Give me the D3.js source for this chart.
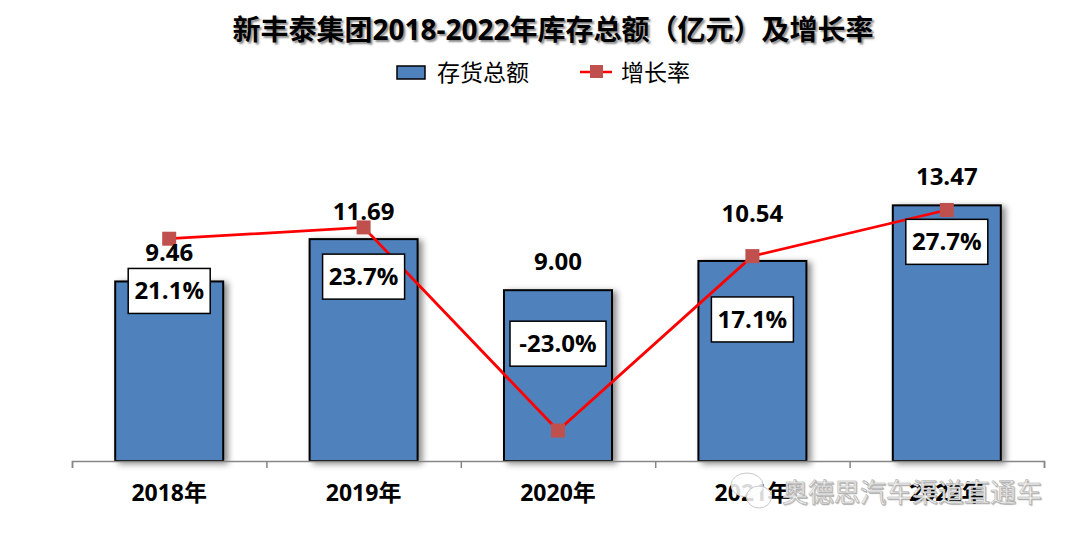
<!DOCTYPE html>
<html>
<head>
<meta charset="utf-8">
<script src="https://cdn.jsdelivr.net/npm/d3@7"></script>
<style>
  html, body { margin: 0; padding: 0; background: #fff; }
  svg text { font-family: "Open Sans", "Noto Sans CJK SC", sans-serif; }
</style>
</head>
<body>
<main></main>
<script>
const years = ["2018年", "2019年", "2020年", "2021年", "2022年"];
const inventory = [9.46, 11.69, 9.00, 10.54, 13.47];
const growth = [21.1, 23.7, -23.0, 17.1, 27.7];

const titleText = "新丰泰集团2018-2022年库存总额（亿元）及增长率";
const barName = "存货总额";
const lineName = "增长率";
const watermark = "奥德思汽车渠道直通车";

// hand placed in the original, so offsets from the bar top in px
const valueOffsets = [29, 28, 29, 48, 29];
const boxOffsets = [-13, 15, 31, 36, 14];

const width = 1080;
const height = 540;
const baseY = 461;
const left = 72;
const right = 1044;

const svg = d3.select("main")
    .append("svg")
    .attr("width", width)
    .attr("height", height)
    .style("display", "block");

const xScale = d3.scaleBand().domain(years).range([left, right]);
const yScale = d3.scaleLinear().domain([0, 16]).range([baseY, baseY - 16 * 18.98]);
const rateScale = d3.scaleLinear().domain([-30, 30]).range([baseY, 200]);
const tickScale = d3.scaleLinear().domain([0, years.length]).range([left, right]);

const barWidth = 108;
const cx = d => xScale(d) + xScale.bandwidth() / 2;

// Title and legend
svg.append("text")
    .attr("x", 553)
    .attr("y", 40)
    .attr("text-anchor", "middle")
    .style("font-size", "28px")
    .style("font-weight", "700")
    .style("fill", "#000")
    .style("text-shadow", "2px 2px 2px rgba(0,0,0,0.45)")
    .text(titleText);

svg.append("rect")
    .attr("x", 397)
    .attr("y", 66)
    .attr("width", 28)
    .attr("height", 13)
    .attr("fill", "#4f81bd")
    .attr("stroke", "#000")
    .attr("stroke-width", 1.5);

svg.append("text")
    .attr("x", 437)
    .attr("y", 81)
    .style("font-size", "23px")
    .text(barName);

svg.append("line")
    .attr("x1", 580)
    .attr("x2", 612)
    .attr("y1", 72)
    .attr("y2", 72)
    .attr("stroke", "#ff0000")
    .attr("stroke-width", 2.5);

svg.append("rect")
    .attr("x", 590)
    .attr("y", 65)
    .attr("width", 13)
    .attr("height", 13)
    .attr("fill", "#c0504d");

svg.append("text")
    .attr("x", 621)
    .attr("y", 81)
    .style("font-size", "23px")
    .text(lineName);

// Bars
svg.selectAll(".bar")
    .data(inventory)
    .enter()
    .append("rect")
    .attr("class", "bar")
    .attr("x", (d, i) => cx(years[i]) - barWidth / 2)
    .attr("y", d => yScale(d))
    .attr("width", barWidth)
    .attr("height", d => baseY - yScale(d))
    .attr("fill", "#4f81bd")
    .attr("stroke", "#000")
    .attr("stroke-width", 2)
    .style("filter", "drop-shadow(4px 2px 3px rgba(0,0,0,0.45))");

// Axis: outer ticks from one scale, labels from the band scale
svg.append("g")
    .attr("transform", `translate(0, ${baseY})`)
    .call(d3.axisBottom(tickScale).ticks(years.length).tickSize(7).tickFormat(""))
    .call(g => g.selectAll("path, line").attr("stroke", "#868686").attr("stroke-width", 1.5));

svg.append("g")
    .attr("transform", `translate(0, ${baseY})`)
    .call(d3.axisBottom(xScale).tickSize(0).tickPadding(24))
    .call(g => g.select(".domain").remove())
    .call(g => g.selectAll("text")
        .style("font-size", "23px")
        .style("font-weight", "700")
        .style("fill", "#000"));

// Growth line
const line = d3.line()
    .x((d, i) => cx(years[i]))
    .y(d => rateScale(d));

svg.append("path")
    .datum(growth)
    .attr("d", line)
    .attr("fill", "none")
    .attr("stroke", "#ff0000")
    .attr("stroke-width", 2.8);

svg.selectAll(".marker")
    .data(growth)
    .enter()
    .append("rect")
    .attr("class", "marker")
    .attr("x", (d, i) => cx(years[i]) - 7)
    .attr("y", d => rateScale(d) - 7)
    .attr("width", 14)
    .attr("height", 14)
    .attr("fill", "#c0504d");

// Inventory labels
svg.selectAll(".value")
    .data(inventory)
    .enter()
    .append("text")
    .attr("class", "value")
    .attr("x", (d, i) => cx(years[i]))
    .attr("y", (d, i) => yScale(d) - valueOffsets[i] + 9)
    .attr("text-anchor", "middle")
    .style("font-size", "24px")
    .style("font-weight", "700")
    .style("fill", "#000")
    .text(d => d.toFixed(2));

// Growth label boxes
const boxes = svg.selectAll(".rate")
    .data(growth)
    .enter()
    .append("g")
    .attr("class", "rate")
    .attr("transform", (d, i) => `translate(${cx(years[i])}, ${yScale(inventory[i]) + boxOffsets[i]})`);

boxes.append("rect")
    .attr("x", d => d < 0 ? -48 : -41)
    .attr("y", 0)
    .attr("width", d => d < 0 ? 96 : 82)
    .attr("height", 45)
    .attr("fill", "#fff")
    .attr("stroke", "#000")
    .attr("stroke-width", 1.5);

boxes.append("text")
    .attr("y", 31)
    .attr("text-anchor", "middle")
    .style("font-size", "24px")
    .style("font-weight", "700")
    .style("fill", "#000")
    .text(d => d.toFixed(1) + "%");

// Watermark over the axis labels
const mark = svg.append("g")
    .attr("fill", "#fff")
    .attr("fill-opacity", 0.85)
    .attr("stroke", "#c8c8c8")
    .attr("stroke-width", 1);
mark.append("ellipse").attr("cx", 747).attr("cy", 485).attr("rx", 16).attr("ry", 12);
mark.append("ellipse").attr("cx", 759).attr("cy", 497).attr("rx", 12.5).attr("ry", 11);

svg.append("text")
    .attr("x", 782)
    .attr("y", 502)
    .style("font-size", "26px")
    .style("fill", "#fff")
    .style("stroke", "#a8a8a8")
    .style("stroke-width", "0.5px")
    .style("text-shadow", "1px 1px 1px rgba(0,0,0,0.25)")
    .text(watermark);
</script>
</body>
</html>
